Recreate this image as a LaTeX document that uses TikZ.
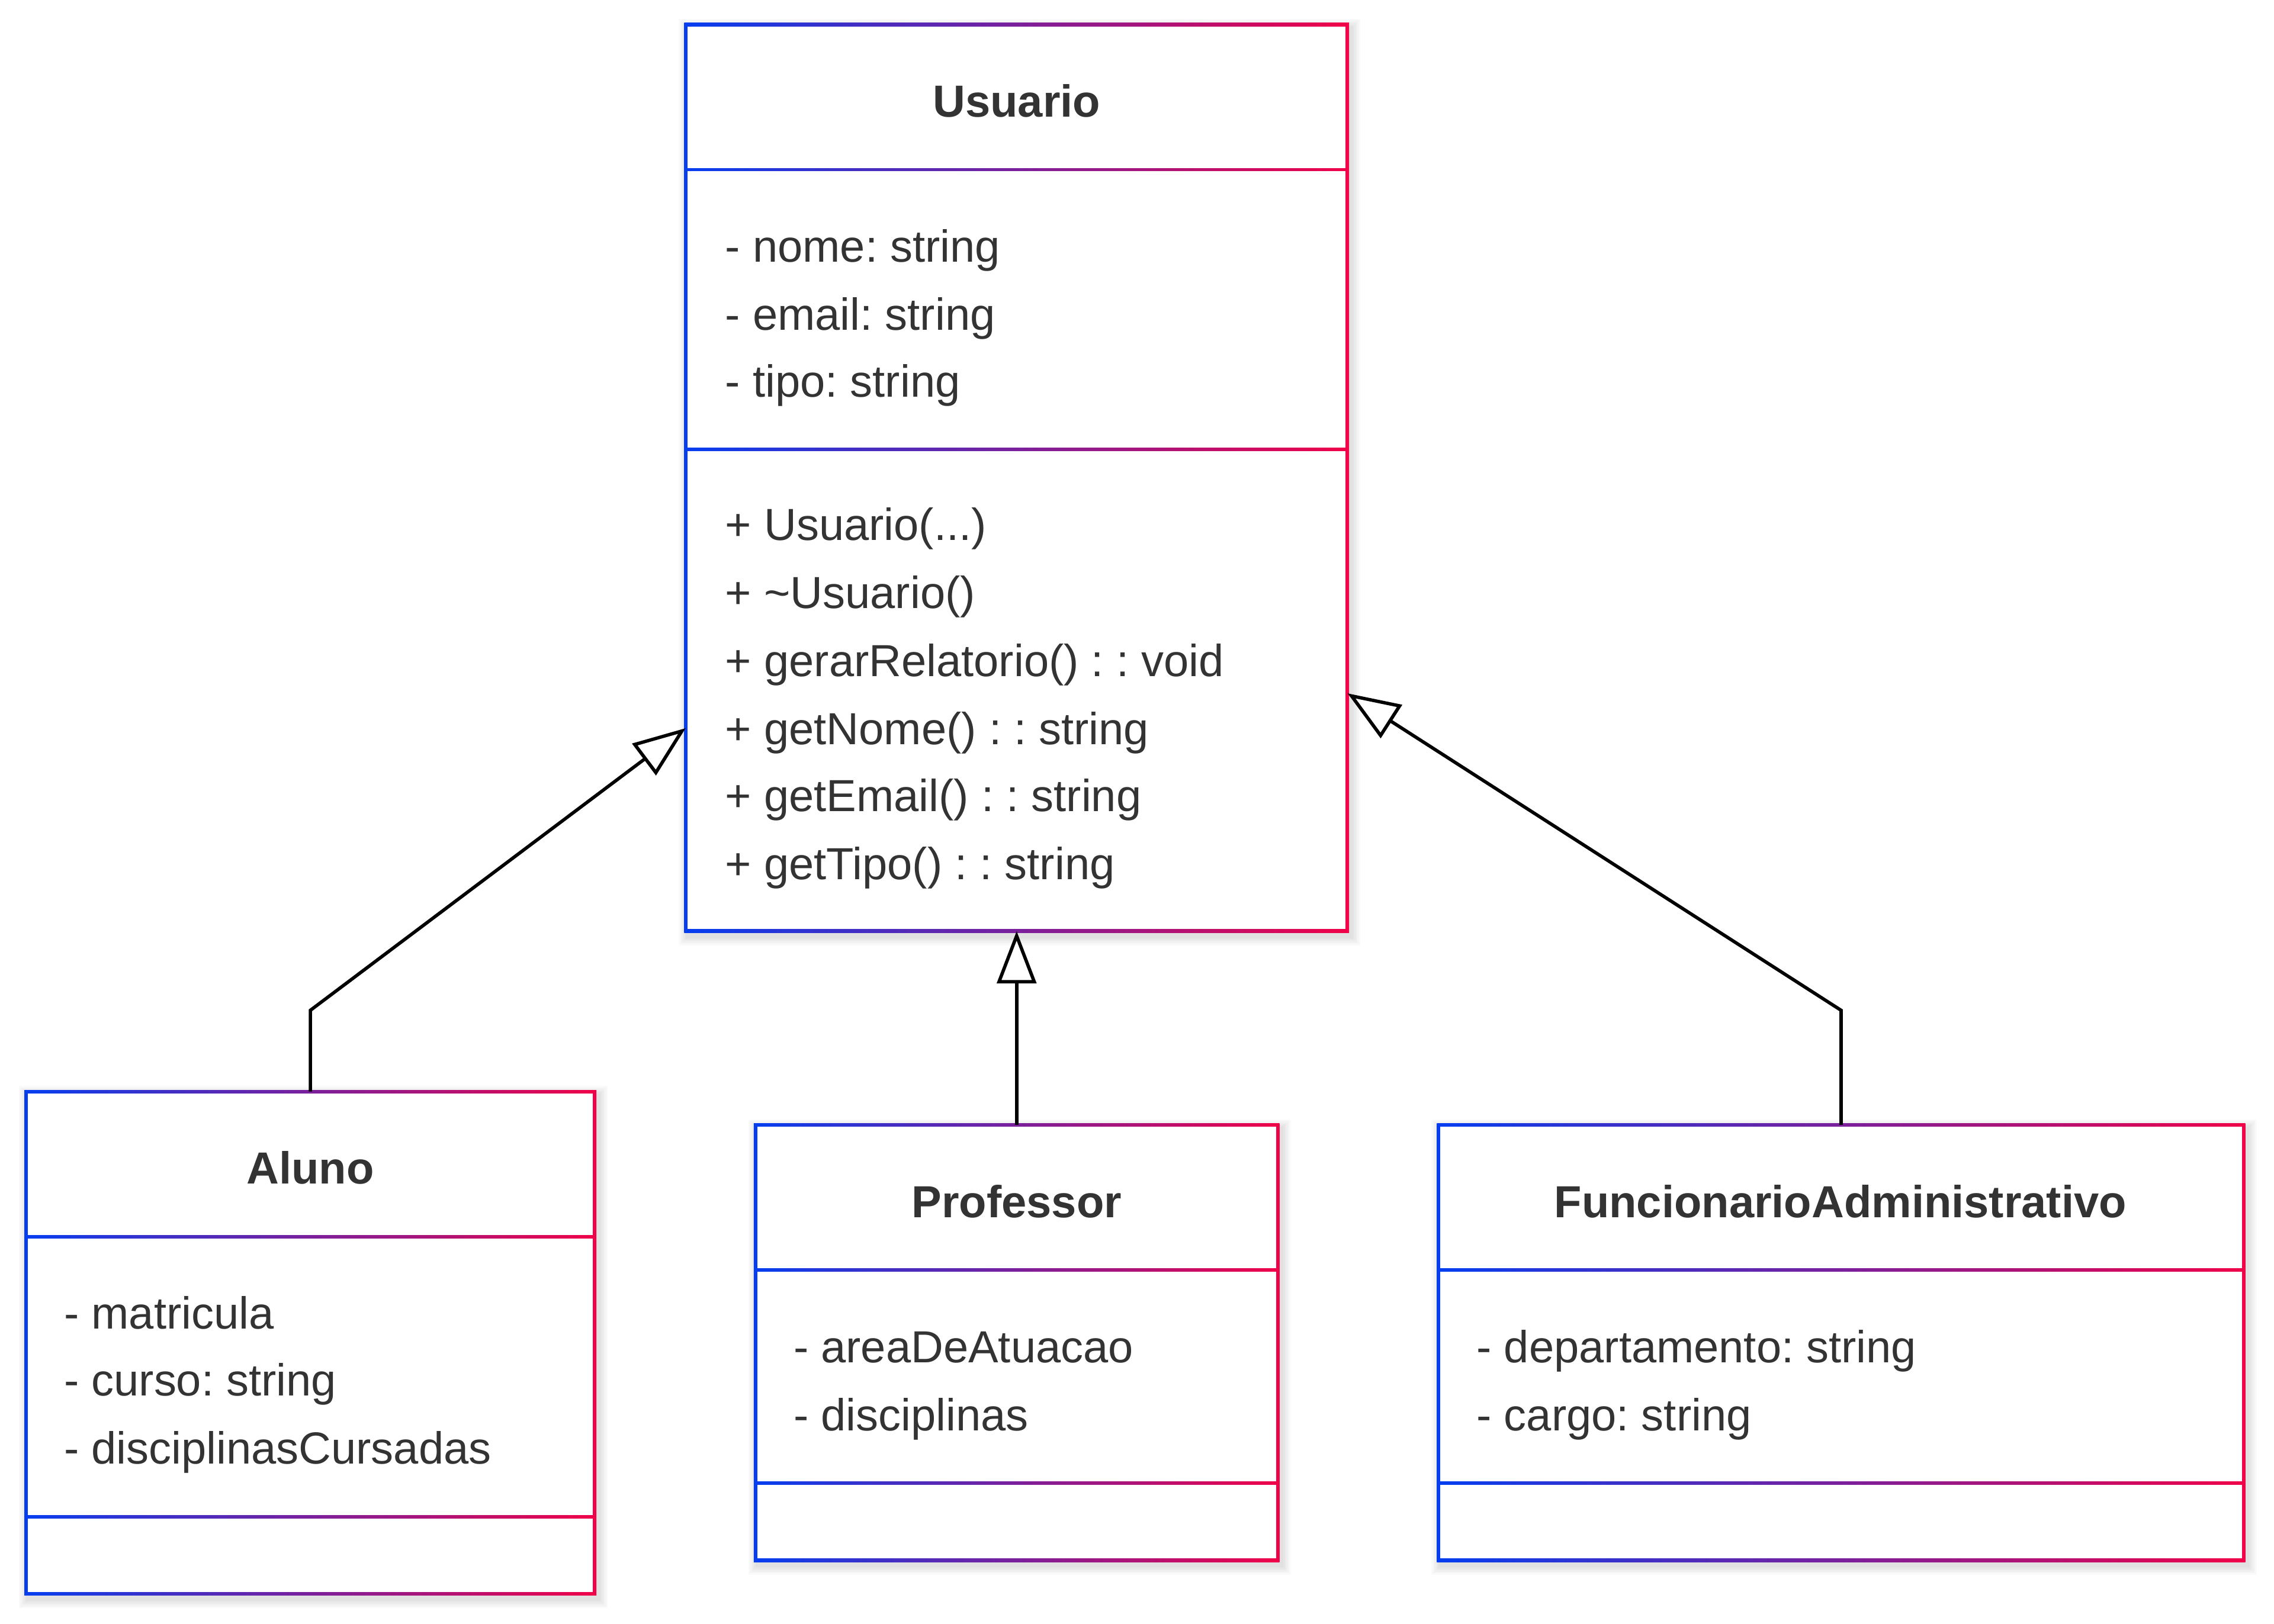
\documentclass[tikz,border=0pt]{standalone}
\usepackage{fontspec}
\setmainfont{Liberation Sans}
\usetikzlibrary{arrows.meta,calc}
\frenchspacing
\definecolor{cblue}{RGB}{5,62,240}
\definecolor{cred}{RGB}{240,2,72}
\definecolor{ctext}{RGB}{51,51,51}
\newcommand\classbox[7]{%
  \foreach \k in {1,...,6}{\fill[black,opacity=0.02] (#2-1-\k+2,#3-1-\k+3) rectangle (#4+1+\k+2,#5+1+\k+3);}
  \shade[boxgrad] (#2-1.2,#3-1.2) rectangle (#4+1.2,#5+1.2);
  \fill[white] (#2+1.2,#3+1.2) rectangle (#4-1.2,#6-1.2);
  \fill[white] (#2+1.2,#6+1.2) rectangle (#4-1.2,#7-1.2);
  \fill[white] (#2+1.2,#7+1.2) rectangle (#4-1.2,#5-1.2);
  \node[inner sep=0pt, minimum width=#4-#2, minimum height=#5-#3] (#1) at ({(#2+#4)/2},{(#3+#5)/2}) {};
}
\begin{document}
\begin{tikzpicture}[x=1pt,y=-1pt,
  boxgrad/.style={left color=cblue,right color=cred},
  attr/.style={anchor=west, inner sep=0pt, text=ctext, font=\fontsize{31}{36}\selectfont, text height=0.72em, text depth=0pt, yshift=-7pt},
  ttl/.style={anchor=center, inner sep=0pt, text=ctext, font=\fontsize{31}{36}\selectfont\bfseries, text height=0.72em, text depth=0pt, yshift=-7pt},
  inh/.style={draw=black, line width=2.3pt, -{Triangle[fill=white, length=36pt, width=27pt]}}]
\useasboundingbox (0,0) rectangle (1568,1120);
\fill[white] (0,0) rectangle (1568,1120);

% Usuario
\classbox{usuario}{473}{17}{929}{642}{117}{310}
\node[ttl] (t1) at (701,70) {Usuario};
\node[attr] (u1) at (500,170) {- nome: string};
\node[attr] (u2) at (500,217) {- email: string};
\node[attr] (u3) at (500,263) {- tipo: string};
\node[attr] (m1) at (500,362) {+ Usuario(...)};
\node[attr] (m2) at (500,409) {+ \char"007E Usuario()};
\node[attr] (m3) at (500,456) {+ gerarRelatorio() : : void};
\node[attr] (m4) at (500,503) {+ getNome() : : string};
\node[attr] (m5) at (500,549) {+ getEmail() : : string};
\node[attr] (m6) at (500,596) {+ getTipo() : : string};

% Aluno
\classbox{aluno}{18}{753}{410}{1099}{853}{1046}
\node[ttl] (t2) at (214,806) {Aluno};
\node[attr] (a1) at (44,906) {- matricula};
\node[attr] (a2) at (44,952) {- curso: string};
\node[attr] (a3) at (44,999) {- disciplinasCursadas};

% Professor
\classbox{prof}{521}{776}{881}{1076}{876}{1023}
\node[ttl] (t3) at (701,829) {Professor};
\node[attr] (p1) at (547,929) {- areaDeAtuacao};
\node[attr] (p2) at (547,976) {- disciplinas};

% FuncionarioAdministrativo
\classbox{func}{992}{776}{1547}{1076}{876}{1023}
\node[ttl] (t4) at (1269,829) {FuncionarioAdministrativo};
\node[attr] (f1) at (1018,929) {- departamento: string};
\node[attr] (f2) at (1018,976) {- cargo: string};

% inheritance
\coordinate (ta) at ($(usuario.south west)+(0,-140)$);
\coordinate (tf) at ($(usuario.south east)+(0,-164)$);
\draw[inh] (aluno.north) -- ++(0,-56) -- (ta);
\draw[inh] (prof.north) -- (usuario.south);
\draw[inh] (func.north) -- ++(0,-79) -- (tf);
\end{tikzpicture}
\end{document}
